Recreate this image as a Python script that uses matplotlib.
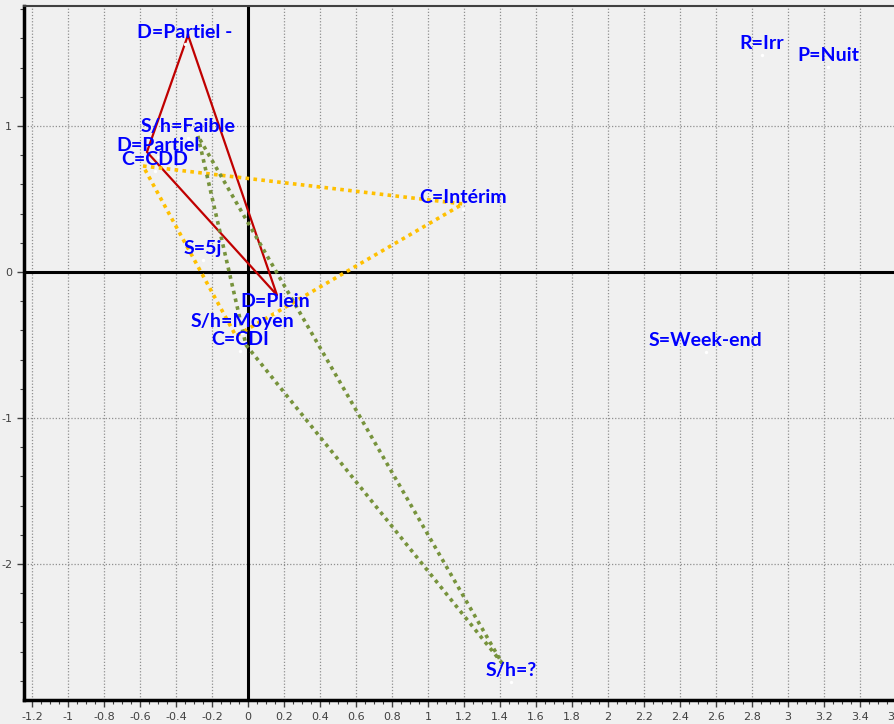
import matplotlib
matplotlib.use("Agg")
import matplotlib.pyplot as plt
from matplotlib.ticker import MultipleLocator, FuncFormatter

# modalities (coordinates of the label anchor points)
labels = ["D=Partiel -", "D=Partiel", "C=CDD", "S/h=Faible", "D=Plein", "C=Intérim",
          "S=5j", "S/h=Moyen", "C=CDI", "R=Irr", "P=Nuit", "S/h=?", "S=Week-end"]
xs = [-0.35, -0.50, -0.517, -0.333, 0.15, 1.194, -0.25, -0.033, -0.044, 2.856, 3.222, 1.461, 2.544]
ys = [1.562, 0.788, 0.692, 0.918, -0.281, 0.432, 0.082, -0.418, -0.541, 1.486, 1.404, -2.808, -0.548]

# triangles drawn over the plane
red_x = [-0.333, 0.161, -0.561, -0.333]
red_y = [1.623, -0.158, 0.822, 1.623]
orange_x = [-0.583, 1.194, -0.067, -0.583]
orange_y = [0.726, 0.466, -0.438, 0.726]
green_x = [-0.278, -0.011, 1.411, -0.278]
green_y = [0.932, -0.500, -2.678, 0.932]

bg = "#f0f0f0"
fig = plt.figure(figsize=(8.94, 7.24), dpi=100, facecolor=bg)
ax = fig.add_axes([24 / 894, 24 / 724, 876 / 894, 694 / 724], facecolor=bg)

ax.set_xlim(-1.244, 3.622)
ax.set_ylim(-2.932, 1.822)

ax.xaxis.set_major_locator(MultipleLocator(0.2))
ax.xaxis.set_minor_locator(MultipleLocator(0.05))
ax.yaxis.set_major_locator(MultipleLocator(1))
ax.yaxis.set_minor_locator(MultipleLocator(0.2))
fmt = FuncFormatter(lambda v, p: "%g" % round(v, 2))
ax.xaxis.set_major_formatter(fmt)
ax.yaxis.set_major_formatter(fmt)

ax.grid(True, which="major", color="#909090", linestyle=(0, (1, 1.5)), linewidth=0.9)
ax.tick_params(which="major", length=5, width=1, colors="#404040", labelsize=8, direction="out")
ax.tick_params(which="minor", length=3, width=0.8, colors="#404040", direction="out")
ax.tick_params(axis="x", pad=4)

ax.spines["right"].set_visible(False)
ax.spines["top"].set_color("#404040")
ax.spines["top"].set_linewidth(1.5)
ax.spines["left"].set_linewidth(2.5)
ax.spines["bottom"].set_linewidth(2.5)

ax.axhline(0, color="black", lw=2.2, zorder=2)
ax.axvline(0, color="black", lw=2.2, zorder=2)

ax.plot(red_x, red_y, color="#c00000", lw=1.6, zorder=3)
ax.plot(orange_x, orange_y, color="#ffc000", lw=2.6, linestyle=(0, (1, 1.2)), zorder=3)
ax.plot(green_x, green_y, color="#77933c", lw=2.6, linestyle=(0, (1, 1.2)), zorder=3)

ax.scatter(xs, ys, s=2, color="white", zorder=4)
for lab, x, y in zip(labels, xs, ys):
    ax.annotate(lab, (x, y), xytext=(0, 8), textcoords="offset points",
                ha="center", va="center", color="#0000ff", fontsize=14,
                fontweight="bold", family="Lato", zorder=5)

fig.savefig("out.png", dpi=100, facecolor=bg)
